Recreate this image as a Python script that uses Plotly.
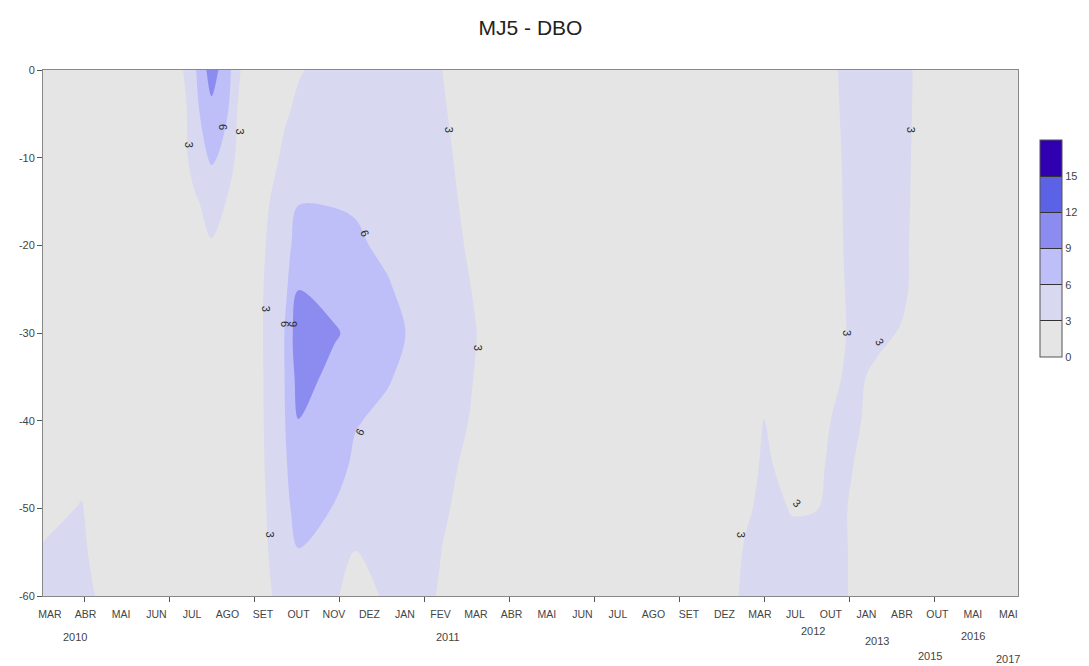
import plotly.graph_objects as go

# ---------------- data ----------------
months = ["MAR", "ABR", "MAI", "JUN", "JUL", "AGO", "SET", "OUT", "NOV", "DEZ",
          "JAN", "FEV", "MAR", "ABR", "MAI", "JUN", "JUL", "AGO", "SET", "DEZ",
          "MAR", "JUL", "OUT", "JAN", "ABR", "OUT", "MAI", "MAI"]
years = ["2010", "2011", "2012", "2013", "2016", "2015", "2017"]
year_at = [0.7, 11.2, 21.5, 23.3, 26.0, 24.8, 27.0]          # position on month scale

depths = [0, -5, -10, -15, -20, -25, -30, -35, -40, -45, -50, -55, -60]
depth_ticks = [-60, -50, -40, -30, -20, -10, 0]
depth_tick_text = ["-60", "-50", "-40", "-30", "-20", "-10", "0"]

# sampling positions along the month scale
x_pos = [-0.2, 0.9, 1.4, 2.5, 3.6, 4.1, 4.55, 5.0, 5.4, 6.0, 6.6, 7.0, 8.0, 8.6,
         9.5, 10.0, 11.0, 12.0, 13.0, 19.0, 19.6, 20.1, 20.9, 21.6, 22.0, 22.6,
         23.3, 24.0, 24.6, 25.3, 27.3]

# DBO profiles (depth 0 -> -60 m) at each sampling position
profiles = [
    [0.5, 0.5, 0.5, 0.5, 0.5, 0.5, 0.5, 0.5, 0.6, 0.8, 2.0, 3.3, 3.8],
    [0.5, 0.5, 0.5, 0.5, 0.5, 0.5, 0.5, 0.7, 1.2, 2.0, 3.2, 3.6, 3.8],
    [0.5, 0.5, 0.5, 0.5, 0.5, 0.5, 0.5, 0.5, 0.6, 0.8, 1.0, 1.8, 2.7],
    [0.5, 0.5, 0.5, 0.5, 0.5, 0.5, 0.5, 0.5, 0.5, 0.5, 0.5, 0.5, 0.5],
    [1.8, 0.5, 0.5, 0.5, 0.5, 0.5, 0.5, 0.5, 0.5, 0.5, 0.5, 0.5, 0.5],
    [5.8, 5.3, 4.95, 2.57, 1.5, 0.8, 0.5, 0.5, 0.5, 0.5, 0.5, 0.5, 0.5],
    [10.5, 8.0, 6.3, 4.5, 2.7, 1.5, 0.8, 0.5, 0.5, 0.5, 0.5, 0.5, 0.5],
    [7.0, 6.05, 5.4, 2.77, 1.5, 0.8, 0.5, 0.5, 0.5, 0.5, 0.5, 0.5, 0.5],
    [2.7, 1.56, 0.83, 0.6, 0.5, 0.5, 0.5, 0.5, 0.5, 0.5, 0.5, 0.5, 0.5],
    [0.6, 0.8, 1.5, 2.3, 2.7, 2.95, 2.98, 2.95, 2.9, 2.8, 2.6, 2.4, 2.0],
    [2.0, 2.7, 3.5, 4.5, 5.0, 5.2, 5.95, 5.9, 5.8, 5.5, 5.2, 4.8, 4.3],
    [2.8, 3.5, 4.5, 5.9, 7.0, 8.95, 11.0, 10.2, 8.95, 8.0, 7.0, 5.9, 4.8],
    [4.0, 4.5, 5.0, 5.9, 6.6, 8.0, 9.3, 8.2, 7.6, 6.9, 5.9, 4.6, 3.2],
    [4.2, 4.6, 5.1, 5.8, 6.3, 7.4, 8.3, 7.6, 6.15, 5.6, 4.5, 2.95, 2.4],
    [4.2, 4.5, 4.8, 5.2, 5.6, 6.2, 7.0, 6.2, 5.5, 5.0, 4.3, 3.6, 3.2],
    [4.0, 4.3, 4.5, 4.8, 5.1, 5.6, 6.02, 5.6, 5.2, 4.7, 4.3, 4.0, 3.7],
    [3.05, 3.3, 3.5, 3.8, 4.0, 4.3, 4.5, 4.3, 4.1, 3.5, 3.3, 3.02, 2.9],
    [2.0, 1.8, 2.1, 2.2, 2.5, 2.8, 3.05, 2.9, 2.7, 2.5, 2.2, 2.0, 1.9],
    [0.8, 0.8, 0.8, 0.8, 0.8, 0.8, 0.8, 0.8, 0.8, 0.8, 0.7, 0.7, 0.7],
    [0.6, 0.6, 0.6, 0.6, 0.6, 0.6, 0.6, 0.6, 0.6, 0.6, 0.8, 1.5, 2.0],
    [0.6, 0.6, 0.6, 0.6, 0.6, 0.6, 0.6, 0.8, 1.2, 1.8, 2.6, 3.3, 3.5],
    [0.6, 0.6, 0.6, 0.6, 0.6, 0.6, 1.5, 2.3, 3.1, 3.4, 3.6, 3.7, 3.8],
    [0.6, 0.6, 0.6, 0.6, 0.6, 0.6, 0.7, 1.0, 1.5, 2.2, 2.9, 3.5, 3.7],
    [0.8, 0.8, 0.8, 0.8, 0.8, 0.8, 0.9, 1.2, 1.5, 2.3, 2.95, 3.5, 3.7],
    [2.5, 2.3, 2.0, 1.8, 1.6, 1.5, 1.5, 2.4, 3.02, 3.5, 3.7, 3.8, 3.8],
    [4.0, 4.0, 4.0, 4.0, 4.0, 3.8, 3.6, 3.6, 3.4, 3.05, 2.8, 2.8, 2.8],
    [4.0, 4.0, 4.0, 4.0, 3.9, 3.8, 3.6, 2.5, 2.3, 2.0, 1.5, 1.2, 1.0],
    [4.0, 3.9, 3.8, 3.7, 3.6, 3.5, 2.8, 2.0, 1.5, 1.2, 1.0, 1.0, 1.0],
    [2.0, 2.0, 1.9, 1.9, 1.8, 1.8, 1.6, 1.2, 1.0, 1.0, 0.9, 0.9, 0.9],
    [0.8, 0.8, 0.8, 0.8, 0.8, 0.8, 0.8, 0.8, 0.8, 0.8, 0.8, 0.8, 0.8],
    [0.5, 0.5, 0.5, 0.5, 0.5, 0.5, 0.5, 0.5, 0.5, 0.5, 0.5, 0.5, 0.5],
]

# contour labels: text, month-scale position, depth, rotation
label_text = ["3", "6", "3", "3", "6", "3", "6", "9", "3", "6", "3", "3", "3", "3", "3", "3"]
label_x = [3.94, 4.87, 5.35, 11.24, 8.87, 6.08, 6.6, 6.85, 12.06, 8.73, 6.2,
           19.49, 21.04, 22.45, 23.38, 24.28]
label_y = [-8.5, -6.5, -7.0, -6.8, -18.6, -27.2, -29.0, -29.0, -31.7, -41.3, -53.0,
           -53.0, -49.4, -30.0, -31.0, -6.8]
label_angle = [90, 90, 90, 90, 67, 90, 90, 90, 90, -63, 90, 90, 45, 90, 60, 90]

levels = [0, 3, 6, 9, 12, 15]
band_colors = ["#e5e5e5", "#d8d8f0", "#bebef8", "#8c8cf0", "#5c62e6", "#3000b0"]

# ---------------- figure ----------------
z = [list(row) for row in zip(*profiles)]

n = len(band_colors)
colorscale = []
for k, c in enumerate(band_colors):
    colorscale.append([k / n, c])
    colorscale.append([(k + 1) / n, c])

FONT = "Liberation Sans, Arial, sans-serif"

fig = go.Figure()
fig.add_trace(go.Contour(
    x=x_pos, y=depths, z=z,
    zmin=0, zmax=18,
    contours=dict(start=0, end=18, size=3, coloring="fill", showlines=False),
    line=dict(width=0),
    colorscale=colorscale,
    hoverinfo="skip",
    colorbar=dict(
        x=1.0226, xanchor="left", y=0.6606, yanchor="middle",
        thickness=22, thicknessmode="pixels", len=0.4125, lenmode="fraction",
        xpad=0, ypad=0,
        outlinewidth=1, outlinecolor="#555555",
        tickmode="array", tickvals=levels,
        ticks="inside", ticklen=22, tickwidth=1, tickcolor="#333333",
        tickfont=dict(family=FONT, size=11, color="#444444"),
    ),
))

annotations = []
for t, xv, yv, a in zip(label_text, label_x, label_y, label_angle):
    annotations.append(dict(x=xv, y=yv, xref="x", yref="y", text=t, showarrow=False,
                            textangle=a, font=dict(family=FONT, size=11, color="#2a2a2a")))

year_drop = [41, 41, 35, 45, 40, 60, 63]
for t, xv, d in zip(years, year_at, year_drop):
    annotations.append(dict(x=xv, y=0, xref="x", yref="paper", text=t, showarrow=False,
                            yanchor="middle", yshift=-d,
                            font=dict(family=FONT, size=11, color="#444444")))

fig.update_layout(
    width=1089, height=666,
    margin=dict(l=43, r=71, t=70, b=70, autoexpand=False),
    paper_bgcolor="white", plot_bgcolor="#e5e5e5",
    title=dict(text="MJ5 - DBO", x=0.5, xref="paper", xanchor="center",
               y=1 - 28 / 666, yanchor="middle",
               font=dict(family=FONT, size=21, color="#222222")),
    showlegend=False,
    annotations=annotations,
)

fig.update_xaxes(
    range=[-0.197, 27.27],
    tickmode="array", tickvals=list(range(len(months))), ticktext=months,
    ticks="", ticklabelstandoff=8,
    tickfont=dict(family=FONT, size=10.5, color="#444444"),
    minor=dict(tickmode="linear", tick0=0.986, dtick=2.394, ticks="outside",
               ticklen=5, tickcolor="#555555", showgrid=False),
    showgrid=False, zeroline=False,
    showline=True, linecolor="#888888", linewidth=1, mirror=True,
)
fig.update_yaxes(
    range=[-60, 0],
    tickmode="array", tickvals=depth_ticks, ticktext=depth_tick_text,
    ticks="outside", ticklen=5, tickcolor="#555555",
    tickfont=dict(family=FONT, size=11, color="#444444"),
    showgrid=False, zeroline=False,
    showline=True, linecolor="#888888", linewidth=1, mirror=True,
)

fig.write_html("out.html",
               config={"displayModeBar": False},
               post_script="document.body.style.margin='0px';"
                           "document.body.style.overflow='hidden';")
